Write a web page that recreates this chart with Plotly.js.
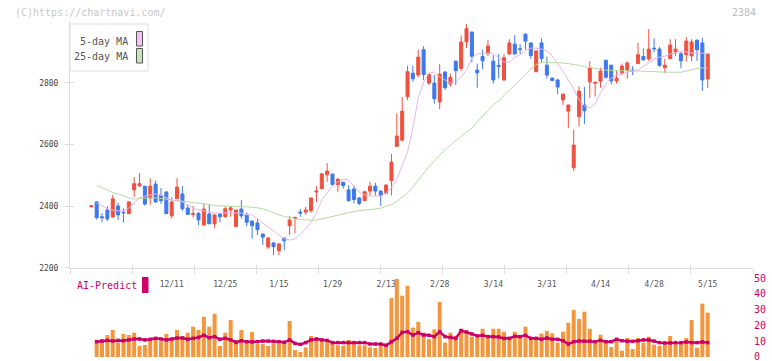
<!DOCTYPE html>
<html><head><meta charset="utf-8">
<script src="https://cdn.plot.ly/plotly-3.0.1.min.js"></script>
<style>html,body{margin:0;padding:0;background:#fff;}#chart{width:772px;height:361px;}</style>
</head><body><div id="chart"></div>
<script>
// ---- data ----
const openP  = [2398,2414,2366,2388,2365,2401,2381,2376,2453,2466,2465,2426,2472,2435,2446,2369,2424,2440,2394,2373,2377,2339,2375,2343,2375,2366,2388,2334,2391,2372,2352,2346,2310,2268,2281,2256,2297,2337,2360,2381,2381,2386,2446,2457,2502,2504,2470,2478,2453,2456,2427,2418,2449,2465,2449,2442,2483,2594,2614,2755,2831,2825,2907,2799,2799,2738,2835,2796,2870,2846,2932,2964,2841,2885,2894,2870,2856,2809,2893,2925,2910,2957,2929,2836,2929,2857,2815,2809,2744,2708,2525,2690,2728,2803,2798,2805,2873,2857,2806,2832,2841,2841,2862,2885,2877,2912,2909,2849,2878,2900,2894,2891,2887,2938,2929,2812];
const highP  = [2403,2415,2378,2400,2437,2411,2392,2416,2495,2508,2466,2490,2483,2459,2449,2429,2491,2465,2406,2401,2381,2407,2407,2373,2376,2401,2401,2388,2420,2380,2353,2359,2311,2300,2285,2280,2298,2368,2366,2391,2398,2428,2465,2507,2540,2506,2490,2479,2468,2468,2430,2450,2479,2476,2452,2470,2569,2700,2754,2855,2855,2907,2919,2829,2825,2861,2836,2830,2871,2953,2990,2966,2862,2907,2938,2890,2893,2892,2941,2954,2925,2961,2930,2905,2944,2885,2816,2812,2765,2729,2647,2789,2786,2870,2805,2849,2874,2858,2838,2862,2869,2854,2929,2911,2974,2944,2916,2877,2941,2941,2899,2948,2941,2940,2945,2895];
const lowP   = [2397,2357,2348,2352,2363,2355,2347,2375,2430,2462,2402,2405,2411,2408,2375,2360,2424,2385,2372,2363,2339,2339,2343,2330,2348,2363,2366,2334,2360,2335,2295,2307,2275,2262,2242,2242,2258,2307,2312,2366,2372,2379,2414,2455,2479,2468,2447,2457,2415,2409,2403,2417,2435,2435,2401,2440,2435,2592,2610,2744,2803,2818,2809,2793,2732,2715,2777,2788,2793,2838,2912,2866,2784,2844,2887,2797,2815,2806,2891,2892,2893,2907,2877,2834,2864,2814,2805,2763,2728,2654,2515,2658,2667,2751,2755,2784,2813,2795,2797,2825,2813,2825,2861,2873,2871,2899,2852,2832,2877,2886,2847,2869,2869,2871,2774,2783];
const closeP = [2402,2363,2363,2359,2424,2372,2379,2414,2473,2473,2407,2465,2414,2418,2376,2414,2462,2392,2373,2376,2356,2391,2343,2372,2366,2392,2395,2388,2369,2348,2337,2324,2300,2297,2269,2278,2288,2355,2364,2378,2388,2427,2449,2505,2514,2470,2488,2467,2418,2422,2409,2447,2465,2449,2435,2469,2543,2627,2708,2836,2813,2883,2827,2827,2748,2828,2784,2818,2839,2932,2975,2886,2832,2871,2919,2809,2852,2881,2929,2893,2908,2935,2888,2903,2878,2825,2807,2786,2763,2728,2598,2773,2709,2848,2801,2838,2818,2806,2815,2854,2864,2839,2891,2874,2909,2910,2856,2857,2922,2909,2871,2935,2932,2907,2809,2893];
const ma5  = [null,2411,2401,2391,2388,2385,2385,2394,2411,2427,2433,2436,2440,2436,2427,2420,2417,2414,2404,2394,2388,2385,2381,2378,2378,2378,2378,2378,2378,2372,2372,2359,2346,2333,2320,2307,2294,2291,2294,2310,2326,2349,2378,2420,2443,2466,2479,2488,2485,2466,2446,2436,2433,2433,2433,2443,2459,2488,2530,2576,2653,2751,2802,2831,2835,2819,2809,2799,2802,2819,2841,2880,2893,2896,2896,2896,2880,2867,2867,2883,2890,2906,2912,2912,2909,2903,2887,2864,2838,2809,2780,2744,2725,2718,2731,2767,2796,2815,2825,2828,2835,2838,2841,2854,2864,2877,2883,2886,2893,2896,2903,2900,2896,2896,2896,2893];
const ma25 = [null,2467,2461,2453,2444,2440,2433,2427,2423,2425,2427,2427,2427,2425,2423,2420,2419,2417,2414,2412,2410,2409,2406,2402,2401,2399,2399,2399,2398,2398,2397,2395,2392,2385,2378,2372,2367,2362,2359,2357,2355,2355,2355,2359,2364,2367,2372,2377,2380,2383,2386,2387,2389,2391,2394,2399,2406,2415,2428,2443,2462,2485,2508,2529,2546,2566,2582,2598,2613,2626,2639,2653,2673,2692,2712,2728,2742,2760,2776,2791,2809,2828,2844,2859,2865,2866,2866,2866,2864,2862,2860,2856,2852,2849,2846,2843,2841,2840,2839,2839,2838,2838,2838,2838,2837,2836,2835,2834,2834,2834,2834,2838,2843,2846,2848,2849];
const volume = [null,9.7,11.2,13.9,17.1,9.1,14.6,13.9,15.4,7.0,7.6,10.8,10.8,10.1,14.6,10.8,17.1,13.3,15.4,19.2,17.1,25.5,19.2,27.4,7.0,15.4,23.4,10.8,17.1,10.8,15.8,8.2,8.2,7.0,8.6,8.6,10.1,22.8,4.4,3.2,6.1,13.3,11.4,10.1,10.8,8.2,7.4,7.0,10.8,8.6,7.4,7.4,6.1,5.7,7.4,7.4,37.3,49.4,38.8,45.1,18.6,22.2,15.4,11.4,17.5,34.8,9.1,15.4,13.3,17.9,16.7,12.9,12.0,17.9,12.0,17.9,17.9,16.0,10.8,16.0,13.9,19.2,12.0,11.2,14.8,16.5,15.0,9.1,16.0,21.7,29.7,24.1,28.7,17.9,9.1,14.1,10.5,6.3,10.1,4.0,12.0,5.1,12.0,9.1,12.9,7.8,7.0,8.2,13.3,9.1,9.1,12.0,23.4,5.9,33.8,28.1];
const aiPredict = [null,9.7,10.1,10.5,10.1,10.5,10.3,10.8,11.4,11.4,10.8,11.2,11.8,11.4,10.8,11.4,12.0,12.0,11.2,11.8,12.4,13.7,12.2,12.9,11.2,11.8,10.8,9.3,10.3,9.7,9.5,9.7,10.1,10.1,9.9,9.7,9.3,10.8,8.6,8.0,9.1,10.8,11.4,10.8,10.5,9.1,9.1,9.1,9.1,9.1,9.1,9.1,8.2,8.2,8.2,7.4,9.7,11.8,15.6,16.0,13.9,15.4,13.9,13.7,12.9,16.0,12.9,12.4,11.8,16.7,15.8,14.6,13.3,13.7,12.9,12.9,12.7,11.8,11.8,13.1,12.9,13.7,11.8,11.8,11.2,12.0,11.2,11.2,10.3,8.2,9.7,10.1,10.1,10.1,9.7,10.5,9.7,9.7,11.2,10.3,9.9,9.9,10.3,10.8,10.8,10.1,9.1,8.9,8.9,9.1,9.1,9.5,9.1,9.1,9.5,9.1];
const dateLabels = ['12/11','12/25','1/15','1/29','2/13','2/28','3/14','3/31','4/14','4/28','5/15'];
const dateLabelIdx = [15,25,35,45,55,65,75,85,95,105,115];
const priceTicks = [2200,2400,2600,2800];
const aiTicks = [0,10,20,30,40,50];

// ---- build ----
const idx = openP.map((_, i) => i);
const FONT = 'DejaVu Sans Mono, monospace';
const RED = '#f0513f', BLUE = '#3f78ee';
const W = 683, H = 336; // plot area px
const px = x => (x - 70) / W;          // page px -> paper x
const py = y => (357 - y) / H;         // page px -> paper y

const traces = [
  {type:'scatter', mode:'lines', x:idx, y:ma25, line:{color:'#b5dca5', width:1}, hoverinfo:'skip', showlegend:false},
  {type:'scatter', mode:'lines', x:idx, y:ma5, line:{color:'#e9b5ea', width:1}, hoverinfo:'skip', showlegend:false},
  {type:'candlestick', x:idx, open:openP, high:highP, low:lowP, close:closeP,
    increasing:{line:{color:RED, width:1}, fillcolor:RED},
    decreasing:{line:{color:BLUE, width:1}, fillcolor:BLUE},
    whiskerwidth:0, showlegend:false, hoverinfo:'skip'},
  {type:'bar', x:idx, y:volume, yaxis:'y2', marker:{color:'#f2973e'}, hoverinfo:'skip', showlegend:false},
  {type:'scatter', mode:'lines+markers', x:idx, y:aiPredict, yaxis:'y2',
    line:{color:'#cc0066', width:2.5}, marker:{symbol:'square', size:3.5, color:'#cc0066'}, hoverinfo:'skip', showlegend:false},
  {type:'scatter', x:[], y:[], xaxis:'x2', yaxis:'y', showlegend:false},
  {type:'scatter', x:[], y:[], xaxis:'x3', yaxis:'y3', showlegend:false}
];

const tickAxisBase = {range:[0,11], tick0:0, dtick:1, showticklabels:false, showgrid:false, zeroline:false, showline:false, tickcolor:'#dddddd'};

const layout = {
  width:772, height:361,
  margin:{l:70, r:19, t:21, b:4},
  paper_bgcolor:'#ffffff', plot_bgcolor:'#ffffff',
  font:{family:FONT, color:'#555'},
  showlegend:false,
  bargap:0.25,
  boxgap:0.2,
  xaxis:{domain:[0,1], anchor:'y', range:[-3.974,123.45], showline:true, linecolor:'#dddddd', linewidth:1,
    tickmode:'array', tickvals:dateLabelIdx, ticktext:dateLabels, ticks:'', ticklabelstandoff:8,
    tickfont:{family:FONT, size:8, color:'#555'}, showgrid:false, zeroline:false, rangeslider:{visible:false}},
  xaxis2:Object.assign({overlaying:'x', anchor:'y', ticks:'outside', ticklen:5}, tickAxisBase),
  xaxis3:Object.assign({overlaying:'x', anchor:'y', ticks:'inside', ticklen:3}, tickAxisBase),
  yaxis:{domain:[0.2649,1], anchor:'x', range:[2200,3000], tickmode:'array', tickvals:priceTicks,
    ticks:'outside', ticklen:4, tickcolor:'#dddddd', showline:true, linecolor:'#dddddd', linewidth:1,
    showgrid:false, zeroline:false, ticklabelstandoff:5, tickfont:{family:FONT, size:8, color:'#444'}},
  yaxis3:{overlaying:'y', anchor:'x', range:[2200,3000], tickmode:'array', tickvals:priceTicks,
    ticks:'inside', ticklen:4, tickcolor:'#dddddd', showticklabels:false, showline:false, showgrid:false, zeroline:false},
  yaxis2:{domain:[0,0.2351], anchor:'x', side:'right', range:[0,50], tickmode:'array', tickvals:aiTicks,
    ticks:'', showline:false, showgrid:false, zeroline:false, ticklabelstandoff:0, ticklabeloverflow:'allow',
    tickfont:{family:FONT, size:10, color:'#cc0066'}},
  shapes:[
    {type:'rect', xref:'paper', yref:'paper', x0:px(70), x1:px(148), y0:py(71), y1:py(24), line:{color:'#dddddd', width:1}, fillcolor:'#ffffff', layer:'above'},
    {type:'rect', xref:'paper', yref:'paper', x0:px(136.5), x1:px(142.5), y0:py(46), y1:py(31.5), line:{color:'#555', width:1}, fillcolor:'#f2c2f2', layer:'above'},
    {type:'rect', xref:'paper', yref:'paper', x0:px(136.5), x1:px(142.5), y0:py(63), y1:py(48.5), line:{color:'#555', width:1}, fillcolor:'#c4e4b4', layer:'above'},
    {type:'rect', xref:'paper', yref:'paper', x0:px(142), x1:px(148.5), y0:py(293), y1:py(277), line:{width:0}, fillcolor:'#cc0066', layer:'above'}
  ],
  annotations:[
    {xref:'paper', yref:'paper', x:px(13), y:py(12), xanchor:'left', yanchor:'middle', showarrow:false,
      text:'(C)https://chartnavi.com/', font:{family:FONT, size:10, color:'#c8c8c8'}},
    {xref:'paper', yref:'paper', x:px(758), y:py(12), xanchor:'right', yanchor:'middle', showarrow:false,
      text:'2384', font:{family:FONT, size:10, color:'#bdbdbd'}},
    {xref:'paper', yref:'paper', x:px(130), y:py(41), xanchor:'right', yanchor:'middle', showarrow:false,
      text:'5-day MA', font:{family:FONT, size:10, color:'#555'}},
    {xref:'paper', yref:'paper', x:px(130), y:py(57), xanchor:'right', yanchor:'middle', showarrow:false,
      text:'25-day MA', font:{family:FONT, size:10, color:'#555'}},
    {xref:'paper', yref:'paper', x:px(75), y:py(285.5), xanchor:'left', yanchor:'middle', showarrow:false,
      text:'AI-Predict', font:{family:FONT, size:10, color:'#cc0066'}}
  ]
};

Plotly.newPlot('chart', traces, layout, {staticPlot:true, displayModeBar:false});
</script>
</body></html>
